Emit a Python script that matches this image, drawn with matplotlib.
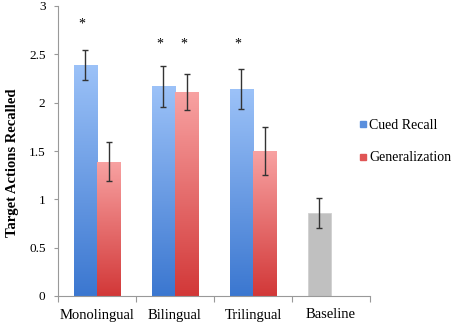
import matplotlib
matplotlib.use("Agg")
import matplotlib.pyplot as plt
import numpy as np
from matplotlib.colors import LinearSegmentedColormap
from matplotlib.lines import Line2D

categories = ["Monolingual", "Bilingual", "Trilingual", "Baseline"]
cued = [2.39, 2.17, 2.14, 0.855]
cued_err = [0.16, 0.21, 0.205, 0.155]
gen = [1.39, 2.11, 1.50]
gen_err = [0.20, 0.185, 0.25]
sig_cued = [2.81, 2.61, 2.61]
sig_gen = [None, 2.61, None]

plt.rcParams['font.family'] = ['Liberation Serif', 'DejaVu Serif']

fig = plt.figure(figsize=(4.54, 3.25), dpi=100)
ax = fig.add_axes([58/454, (325-296)/325, (370-58)/454, (296-6)/325])

x = np.arange(len(categories))
w = 0.3
blue_cmap = LinearSegmentedColormap.from_list("b", ["#3b77d0", "#9cc2f8"])
red_cmap = LinearSegmentedColormap.from_list("r", ["#d23838", "#f8a2a2"])

def grad_bars(bars, cmap):
    grad = np.linspace(0, 1, 256).reshape(-1, 1)
    for b in bars:
        x0, y0, bw, bh = b.get_x(), b.get_y(), b.get_width(), b.get_height()
        im = ax.imshow(grad, cmap=cmap, origin="lower", aspect="auto",
                       extent=[x0, x0 + bw, y0, y0 + bh], zorder=2)
        im.set_clip_path(b)

cb = ax.bar(x[:3] - w/2, cued[:3], w, color="#6fa0e6", edgecolor="#b8d2f5", linewidth=0.6, zorder=1)
grad_bars(cb, blue_cmap)
gb = ax.bar(x[:3] + w/2, gen, w, color="#ec7070", edgecolor="#f6b8b8", linewidth=0.6, zorder=1)
grad_bars(gb, red_cmap)
bb = ax.bar(x[3] - w/2, cued[3], w, color="#c0c0c0", edgecolor="#d0d0d0", linewidth=0.6, zorder=2)

ax.errorbar(x - w/2, cued, yerr=cued_err, fmt="none", ecolor="#333333", elinewidth=1.0, capsize=2.5, capthick=1.0, zorder=4)
ax.errorbar(x[:3] + w/2, gen, yerr=gen_err, fmt="none", ecolor="#333333", elinewidth=1.0, capsize=2.5, capthick=1.0, zorder=4)

for i, s in enumerate(sig_cued):
    if s is not None:
        ax.text(x[i] - w/2 - 0.04, s, "*", ha="center", va="center", fontsize=10)
for i, s in enumerate(sig_gen):
    if s is not None:
        ax.text(x[i] + w/2 - 0.04, s, "*", ha="center", va="center", fontsize=10)

ax.set_xlim(-0.5, 3.5)
ax.set_ylim(0, 3)
ax.set_yticks([0, 0.5, 1, 1.5, 2, 2.5, 3])
ax.set_yticklabels(["0", "0.5", "1", "1.5", "2", "2.5", "3"])
ax.set_xticks([-0.5, 0.5, 1.5, 2.5, 3.5], minor=False)
ax.set_xticklabels([])
ax.set_xticks(x, minor=True)
ax.set_xticklabels(categories, minor=True, fontsize=10.5)
ax.tick_params(axis="x", which="minor", length=0, pad=9)
ax.tick_params(axis="x", which="major", length=4, color="#999999", direction="out")
ax.tick_params(axis="y", length=3, color="#999999", labelsize=9.5, pad=6)
for sp in ["top", "right"]:
    ax.spines[sp].set_visible(False)
for sp in ["left", "bottom"]:
    ax.spines[sp].set_color("#999999")
    ax.spines[sp].set_linewidth(0.8)

fig.text(13/454, 1 - 163/325, "Target Actions Recalled", rotation=90, ha="center", va="center",
         fontsize=10.5, fontweight="bold")

handles = [Line2D([], [], marker="s", linestyle="none", markersize=4.5, color="#5a8fdd"),
           Line2D([], [], marker="s", linestyle="none", markersize=4.5, color="#e05555")]
fig.legend(handles, ["Cued Recall", "Generalization"], loc="upper left",
           bbox_to_anchor=(352/454, 1 - 112/325), frameon=False, fontsize=10,
           handlelength=0.6, handletextpad=0.15, labelspacing=1.4, borderpad=0)

fig.savefig("out.png", dpi=100)
